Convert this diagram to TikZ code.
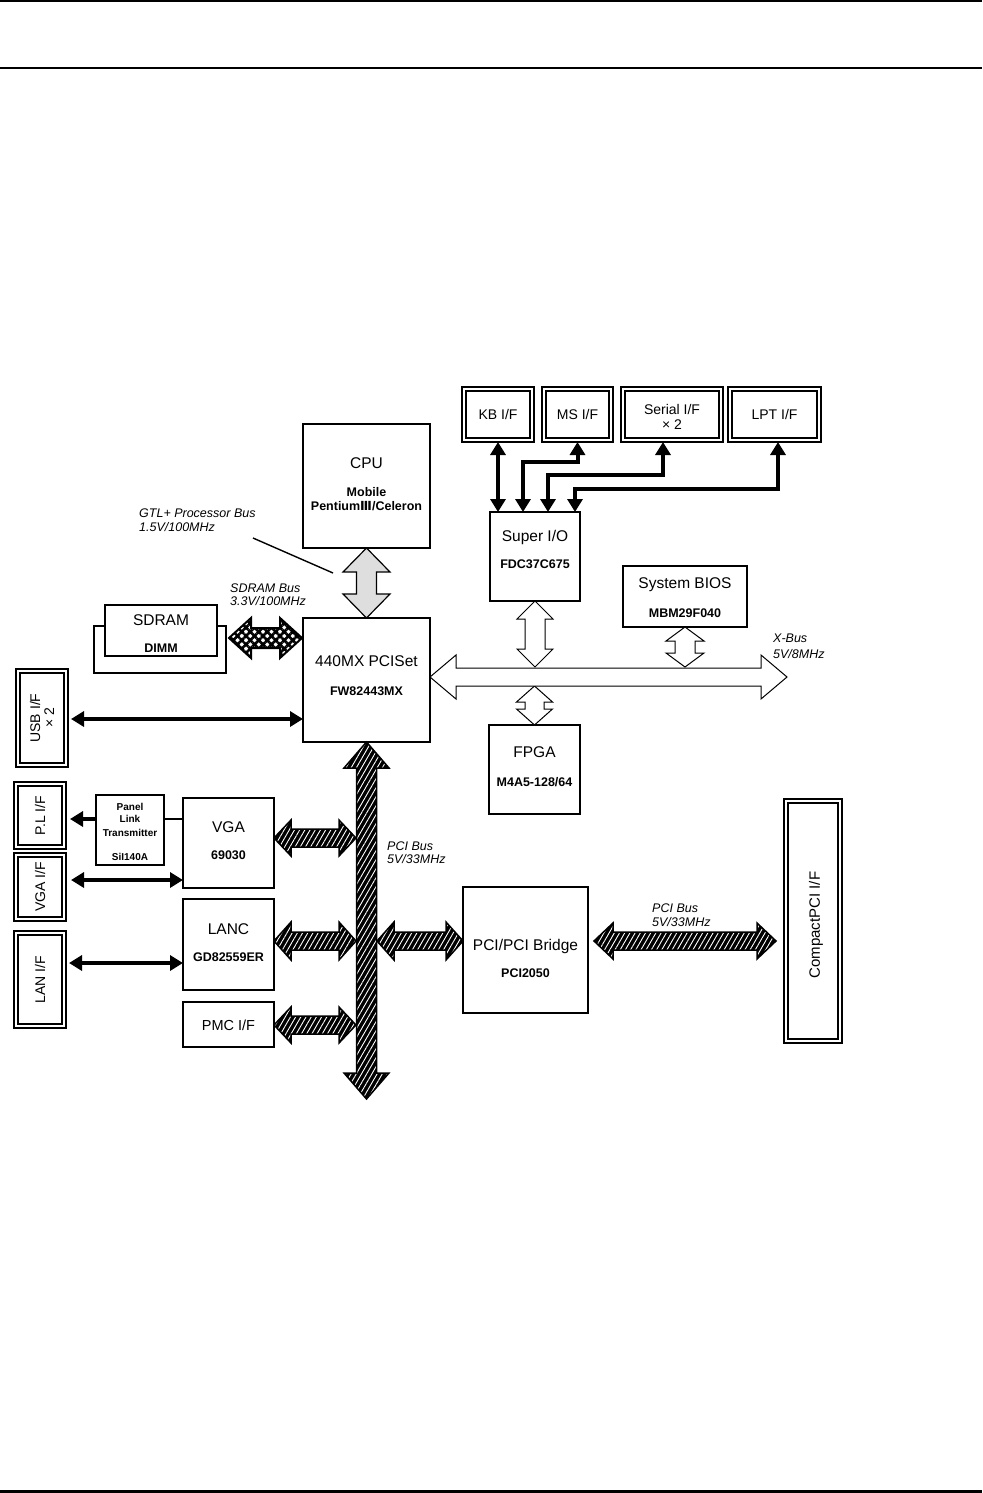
\documentclass[tikz,border=0pt]{standalone}
\usepackage{fontspec}
\setmainfont{Liberation Sans}
\newfontfamily\dejavu{DejaVu Sans}
\usetikzlibrary{arrows.meta,calc,patterns.meta}
\newcommand\vdbl[6]{%
\path[#1] let \p1=(#2), \p2=(#3) in
 (\x1,\y1) -- (\x1+#5,\y1-#6) -- (\x1+#4,\y1-#6) -- (\x1+#4,\y2+#6) -- (\x1+#5,\y2+#6) -- (\x1,\y2)
 -- (\x1-#5,\y2+#6) -- (\x1-#4,\y2+#6) -- (\x1-#4,\y1-#6) -- (\x1-#5,\y1-#6) -- cycle;}
\newcommand\hdbl[6]{%
\path[#1] let \p1=(#2), \p2=(#3) in
 (\x1,\y1) -- (\x1+#6,\y1+#5) -- (\x1+#6,\y1+#4) -- (\x2-#6,\y1+#4) -- (\x2-#6,\y1+#5) -- (\x2,\y1)
 -- (\x2-#6,\y1-#5) -- (\x2-#6,\y1-#4) -- (\x1+#6,\y1-#4) -- (\x1+#6,\y1-#5) -- cycle;}
\newcommand\ifrect[1]{%
\draw[line width=1.1pt] (#1.north west) rectangle (#1.south east);
\draw[line width=2.2pt] ($(#1.north west)+(4pt,-4pt)$) rectangle ($(#1.south east)+(-4pt,4pt)$);}
\tikzset{
 box/.style={draw, line width=2.8pt, fill=white, inner sep=0pt, outer sep=0pt},
 ifbox/.style={inner sep=0pt, outer sep=0pt, font=\fontsize{14}{16}\selectfont, align=center},
 ttl/.style={font=\fontsize{15.5}{17}\selectfont, inner sep=0pt},
 sub/.style={font=\bfseries\fontsize{12.5}{14}\selectfont, inner sep=0pt},
 iftxt/.style={font=\fontsize{14}{16}\selectfont, inner sep=0pt, align=center},
 lbl/.style={font=\itshape\fontsize{12.5}{13.5}\selectfont, inner sep=0pt, anchor=west, align=left},
 conn/.style={line width=4pt, {Triangle[length=13pt,width=15pt]}-{Triangle[length=13pt,width=15pt]}},
 openbus/.style={draw, line width=1pt, fill=white},
 graybus/.style={draw, line width=1.2pt, fill=black!13},
 hatchbus/.style={draw, line width=1.5pt, preaction={fill=black}, pattern={Lines[angle=60,distance=4.5pt,line width=0.9pt]}, pattern color=white},
 crossbus/.style={draw, line width=2pt, preaction={fill=white}, pattern={Hatch[angle=45,distance=6pt,line width=2.6pt]}, pattern color=black},
}
\begin{document}
\begin{tikzpicture}[x=1pt,y=-1pt]
\useasboundingbox (0,0) rectangle (982,1493);
% page rules
\coordinate (tl1) at (0,1); \coordinate (tr1) at (982,1);
\draw[line width=1.2pt] (tl1) -- (tr1);
\coordinate (tl2) at (0,68); \coordinate (tr2) at (982,68);
\draw[line width=1.4pt] (tl2) -- (tr2);
\coordinate (bl) at (0,1491.5); \coordinate (br) at (982,1491.5);
\draw[line width=3pt] (bl) -- (br);

% main boxes
\node[box, minimum width=127, minimum height=124] (cpu) at (366.5,486) {};
\node[ttl] (cput) at (366.5,463) {CPU};
\node[sub] (cpus1) at (366.5,492) {Mobile};
\node[sub] (cpus2) at (366.5,506) {Pentium{\dejavu Ⅲ}/Celeron};

\node[box, minimum width=127, minimum height=124] (pci440) at (366.5,680) {};
\node[ttl] (pci440t) at (366.5,661) {440MX PCISet};
\node[sub] (pci440s) at (366.5,691) {FW82443MX};

\node[box, line width=2.3pt, minimum width=132, minimum height=47] (sdramb) at (160,649.5) {};
\node[box, line width=2.3pt, minimum width=112, minimum height=51] (sdram) at (161,630.5) {};
\node[ttl] (sdramt) at (161,620) {SDRAM};
\node[sub] (sdrams) at (161,648) {DIMM};

\node[box, minimum width=90, minimum height=89] (sio) at (535,556.5) {};
\node[ttl] (siot) at (535,537) {Super I/O};
\node[sub] (sios) at (535,564) {FDC37C675};

\node[box, line width=2.5pt, minimum width=124, minimum height=61] (bios) at (685,596.5) {};
\node[ttl] (biost) at (685,585) {System BIOS};
\node[sub] (bioss) at (685,613) {MBM29F040};

\node[box, minimum width=91, minimum height=89] (fpga) at (534.5,769.5) {};
\node[ttl] (fpgat) at (534.5,752) {FPGA};
\node[sub] (fpgas) at (534.5,782) {M4A5-128/64};

\node[box, line width=2.5pt, minimum width=68, minimum height=70] (panel) at (130,830) {};
\node[sub, font=\bfseries\fontsize{10}{12}\selectfont] (panel1) at (130,807) {Panel};
\node[sub, font=\bfseries\fontsize{10}{12}\selectfont] (panel2) at (130,819) {Link};
\node[sub, font=\bfseries\fontsize{10}{12}\selectfont] (panel3) at (130,833) {Transmitter};
\node[sub, font=\bfseries\fontsize{10}{12}\selectfont] (panel4) at (130,857) {SiI140A};

\node[box, minimum width=91, minimum height=90] (vga) at (228.5,843) {};
\node[ttl] (vgat) at (228.5,827) {VGA};
\node[sub] (vgas) at (228.5,855) {69030};

\node[box, minimum width=91, minimum height=91] (lanc) at (228.5,944.5) {};
\node[ttl] (lanct) at (228.5,929) {LANC};
\node[sub] (lancs) at (228.5,957) {GD82559ER};

\node[box, minimum width=91, minimum height=45] (pmc) at (228.5,1024.5) {};
\node[ttl, font=\fontsize{14.5}{16}\selectfont] (pmct) at (228.5,1025) {PMC I/F};

\node[box, minimum width=125, minimum height=126] (bridge) at (525.5,950) {};
\node[ttl] (bridget) at (525.5,946) {PCI/PCI Bridge};
\node[sub] (bridges) at (525.5,973) {PCI2050};

% interface boxes with double border
\node[ifbox, minimum width=72, minimum height=55] (kb) at (498,414.5) {KB I/F};
\ifrect{kb}
\node[ifbox, minimum width=71, minimum height=55] (ms) at (577.5,414.5) {MS I/F};
\ifrect{ms}
\node[ifbox, minimum width=102, minimum height=55] (serial) at (672,414.5) {};
\node[iftxt] (serialt) at (672,417) {Serial I/F\\[-1pt]× 2};
\ifrect{serial}
\node[ifbox, minimum width=93, minimum height=55] (lpt) at (774.5,414.5) {LPT I/F};
\ifrect{lpt}

\node[ifbox, minimum width=52, minimum height=98] (usb) at (42,718) {};
\node[iftxt, rotate=90] (usbt) at (42,718) {USB I/F\\[-2pt]× 2};
\ifrect{usb}
\node[ifbox, minimum width=52, minimum height=67] (pl) at (40,815.5) {};
\node[iftxt, rotate=90] (plt) at (40,815.5) {P.L I/F};
\ifrect{pl}
\node[ifbox, minimum width=52, minimum height=68] (vgaif) at (40,887) {};
\node[iftxt, rotate=90] (vgaift) at (40,887) {VGA I/F};
\ifrect{vgaif}
\node[ifbox, minimum width=52, minimum height=97] (lanif) at (40,979.5) {};
\node[iftxt, rotate=90] (lanift) at (40,979.5) {LAN I/F};
\ifrect{lanif}
\node[ifbox, minimum width=58, minimum height=244] (cpci) at (813,921) {};
\node[iftxt, font=\fontsize{15}{17}\selectfont, rotate=90] (cpcit) at (816,925) {CompactPCI I/F};
\ifrect{cpci}

% bus labels
\node[lbl] (gtl) at (139,520) {GTL+ Processor Bus\\1.5V/100MHz};
\coordinate (gtlA) at (253,538); \coordinate (gtlB) at (333,573);
\draw[line width=1.4pt] (gtlA) -- (gtlB);
\node[lbl] (sdbus) at (230,594.5) {SDRAM Bus\\3.3V/100MHz};
\node[lbl, font=\itshape\fontsize{12.5}{16}\selectfont] (xbus) at (773,646) {X-Bus\\5V/8MHz};
\node[lbl] (pcibus1) at (387,852.5) {PCI Bus\\5V/33MHz};
\node[lbl] (pcibus2) at (652,915) {PCI Bus\\5V/33MHz};

% bus coordinates
\coordinate (xbr) at (787,677);
\coordinate (xbt) at (535,667);
\coordinate (xbb) at (535,686);
\coordinate (sdl) at (229,638);
\coordinate (sdr) at (302,638);
\coordinate (pcibot) at (366.5,1099);
\coordinate (vgaR) at (356,838);
\coordinate (lanR) at (356,941);
\coordinate (pmcR) at (356,1025);
\coordinate (brL) at (377,941);
\coordinate (prL) at (594,941);
\coordinate (prR) at (776,941);

% buses
\vdbl{graybus}{cpu.south}{pci440.north}{10pt}{23.5pt}{24pt}
\vdbl{openbus}{sio.south}{sio.south |- xbt}{10pt}{18pt}{18pt}
\vdbl{openbus}{fpga.north |- xbb}{fpga.north}{9.5pt}{18pt}{16pt}
\vdbl{openbus}{bios.south |- bios.south}{bios.south |- xbt}{10pt}{19pt}{14pt}
\hdbl{openbus}{pci440.east |- xbr}{xbr}{9pt}{22pt}{26pt}
\hdbl{crossbus}{sdl}{sdr}{10pt}{20pt}{22pt}
\vdbl{hatchbus}{pci440.south}{pcibot}{10pt}{22.5pt}{26pt}
\hdbl{hatchbus}{vga.east |- vgaR}{vgaR}{9pt}{18pt}{17pt}
\hdbl{hatchbus}{lanc.east |- lanR}{lanR}{9pt}{19pt}{17pt}
\hdbl{hatchbus}{pmc.east |- pmcR}{pmcR}{9pt}{18pt}{17pt}
\hdbl{hatchbus}{brL}{bridge.west |- brL}{9pt}{19pt}{17pt}
\hdbl{hatchbus}{prL}{prR}{9pt}{18pt}{19pt}

% Super I/O connectors
\coordinate (msB) at (577.5,462); \coordinate (msC) at (523,462);
\coordinate (serB) at (663,475); \coordinate (serC) at (548,475);
\coordinate (lptB) at (778,489); \coordinate (lptC) at (575,489);
\draw[conn] (kb.south) -- (kb.south |- sio.north);
\draw[conn] (ms.south) -- (msB) -- (msC) -- (msC |- sio.north);
\draw[conn] (serial.south -| serB) -- (serB) -- (serC) -- (serC |- sio.north);
\draw[conn] (lpt.south -| lptB) -- (lptB) -- (lptC) -- (lptC |- sio.north);

% left connectors
\coordinate (usbA) at (71,719);
\draw[conn] (usbA) -- (pci440.west |- usbA);
\coordinate (plA) at (70,819);
\draw[line width=4pt, -{Triangle[length=13pt,width=15pt]}] (panel.west |- plA) -- (plA);
\draw[line width=2.5pt] (panel.east |- plA) -- (vga.west |- plA);
\coordinate (vgaifA) at (71,880);
\draw[conn] (vgaifA) -- (vga.west |- vgaifA);
\coordinate (lanA) at (69,963);
\draw[conn] (lanA) -- (lanc.west |- lanA);
\end{tikzpicture}
\end{document}
